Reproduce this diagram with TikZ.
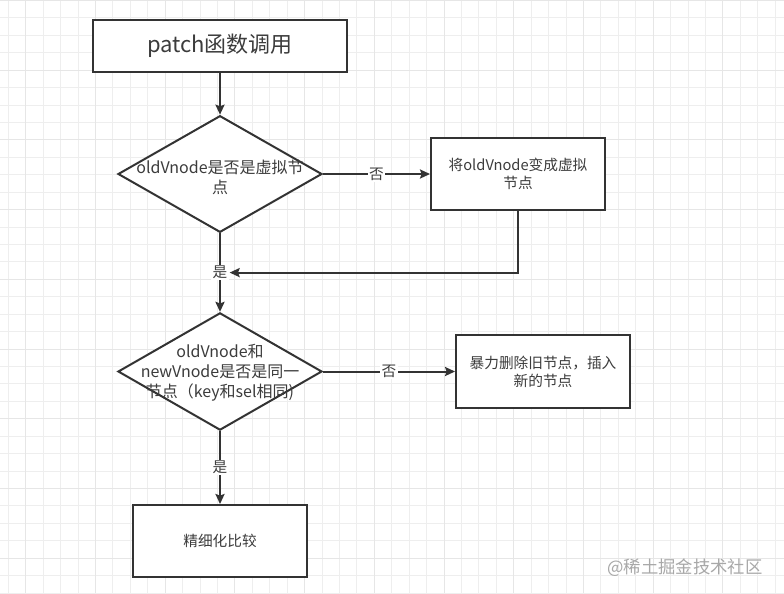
\documentclass[tikz,border=0pt]{standalone}
\usepackage{fontspec}
\setmainfont{Noto Sans CJK SC}
\usetikzlibrary{shapes.geometric,arrows.meta}
\definecolor{ink}{HTML}{333333}
\definecolor{txt}{HTML}{3C3C3C}
\definecolor{gridminor}{HTML}{EEEEEE}
\definecolor{gridmajor}{HTML}{E6E6E6}
\definecolor{wm}{HTML}{A8A8A8}
\tikzset{
  boxnode/.style={draw=ink, line width=1.5pt, fill=white, rectangle, minimum width=130.5pt, minimum height=54pt, inner sep=0pt, text=txt, font=\fontsize{11pt}{13.5pt}\selectfont, align=center},
  decnode/.style={draw=ink, line width=1.5pt, fill=white, diamond, minimum width=153pt, minimum height=87.5pt, inner sep=0pt},
  dectext/.style={text=txt, font=\fontsize{12pt}{15pt}\selectfont, align=center, inner sep=0pt},
  arr/.style={draw=ink, line width=1.5pt, -{Stealth[length=7.5pt,width=6.8pt,inset=1.2pt]}},
  lbl/.style={fill=white, text=txt, font=\fontsize{11pt}{13pt}\selectfont, inner sep=1pt},
}
\begin{document}
\begin{tikzpicture}[x=0.75pt,y=-0.75pt]
\useasboundingbox (0,0) rectangle (784,593);
\fill[white] (0,0) rectangle (784,593);
% grid
\draw[gridminor, line width=0.75pt]
  \foreach \i in {0,...,44}{ (8.3+17.43*\i,0) -- (8.3+17.43*\i,593) }
  \foreach \j in {0,...,34}{ (0,0.5+17.43*\j) -- (784,0.5+17.43*\j) };
\draw[gridmajor, line width=0.75pt]
  \foreach \i in {1,5,...,41}{ (8.3+17.43*\i,0) -- (8.3+17.43*\i,593) }
  \foreach \j in {0,4,...,32}{ (0,0.5+17.43*\j) -- (784,0.5+17.43*\j) };
% nodes
\node[boxnode, minimum width=190.5pt, minimum height=39pt, font=\fontsize{16.5pt}{19pt}\selectfont] (start) at (220,46) {patch函数调用};
\node[decnode] (d1) at (220,174) {};
\node[dectext] (d1t) at (220,177) {oldVnode是否是虚拟节\\点};
\node[boxnode] (b2) at (518,174) {将oldVnode变成虚拟\\节点};
\node[decnode, minimum height=88pt] (d2) at (220,371.5) {};
\node[dectext] (d2t) at (220,373) {oldVnode和\\newVnode是否是同一\\节点（key和sel相同)};
\node[boxnode, minimum height=54.75pt] (b3) at (543,371.5) {暴力删除旧节点，插入\\新的节点};
\node[boxnode] (b4) at (220,541) {精细化比较};
\node[text=wm, font=\fontsize{13pt}{15pt}\selectfont, inner sep=0pt] (wmk) at (685,568) {@稀土掘金技术社区};
% connectors
\draw[arr] (start) -- (d1);
\draw[arr] (d1) -- (b2) node[midway, lbl] (no1) {否};
\draw[arr] (d1) -- (d2) node[midway, lbl] (yes1) {是};
\draw[arr] (b2.south) |- (yes1.east);
\draw[arr] (d2) -- (b3) node[midway, lbl] (no2) {否};
\draw[arr] (d2) -- (b4) node[midway, lbl] (yes2) {是};
\end{tikzpicture}
\end{document}
